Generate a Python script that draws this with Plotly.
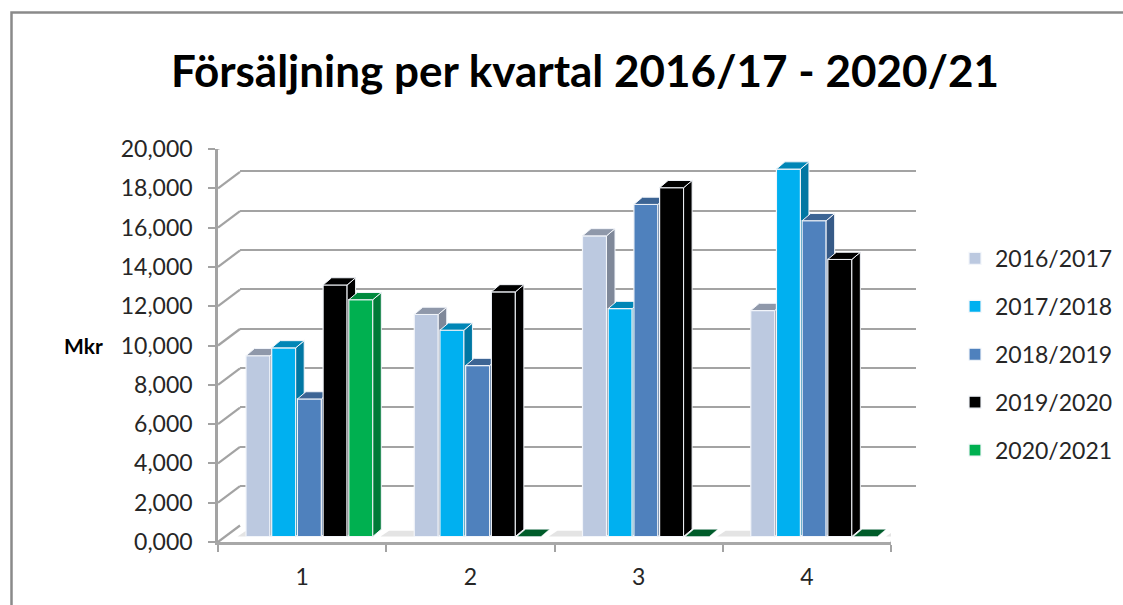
import plotly.graph_objects as go

W, H = 1123, 605
quarters = ["1", "2", "3", "4"]
seasons = ["2016/2017", "2017/2018", "2018/2019", "2019/2020", "2020/2021"]
s1617 = [9200, 11300, 15300, 11500]
s1718 = [9600, 10500, 11600, 18700]
s1819 = [7000, 8700, 16900, 16070]
s1920 = [12800, 12450, 17750, 14100]
s2021 = [12050, 0, 0, 0]
series = [s1617, s1718, s1819, s1920, s2021]
front = ["#BCC9E0", "#00B0F0", "#4F81BD", "#000000", "#00B050"]
side = ["#7F8899", "#0077A3", "#365A87", "#000000", "#007A37"]
top = ["#8F98AA", "#0086B6", "#3C6494", "#000000", "#008A3E"]
zero_top = "#005C2A"
y_ticks = list(range(0, 20001, 2000))
y_labels = [f"{v // 1000},000" for v in y_ticks]
title = "Försäljning per kvartal 2016/17 - 2020/21"

# front plane of the box in page pixels
X0, X1, YT, YB = 218.0, 891.0, 149.0, 542.0
BX0, BX1, BYT, BYB = 240.0, 916.0, 132.0, 525.5
ux = (X1 - X0) / 4          # px per category
uy = (YB - YT) / 20000      # px per value unit


def px_x(p):
    return p / ux


def px_y(p):
    return p / uy


base_dx, base_dy = px_x(7.5), px_y(5.5)     # offset of bar fronts from box front
dep_dx, dep_dy = px_x(8.5), px_y(7.2)       # bar depth
wall_dx, wall_dy = px_x(BX0 - X0), px_y(YB - BYB)
bar_w = px_x(24.0)
step = px_x(25.7)

GRID = "#A3A3A3"
FONT = "Lato"
TXT = "#262626"

fig = go.Figure()

# back wall
fig.add_trace(go.Scatter(x=[0], y=[0], xaxis="x", yaxis="y", mode="markers",
                         marker=dict(opacity=0), showlegend=False, hoverinfo="skip"))

# side wall diagonals and floor outline
for v in y_ticks:
    fig.add_trace(go.Scatter(x=[0, wall_dx], y=[v, v + wall_dy], xaxis="x2", yaxis="y2", mode="lines",
                             line=dict(color=GRID, width=2.2), showlegend=False,
                             hoverinfo="skip", cliponaxis=False))
fig.add_trace(go.Scatter(x=[4, 4 + wall_dx], y=[0, wall_dy], xaxis="x2", yaxis="y2", mode="lines",
                         line=dict(color="#B5B5B5", width=2.2), showlegend=False,
                         hoverinfo="skip", cliponaxis=False))

# floor shading between the groups
for c in range(5):
    xa = c + base_dx + px_x(20.5) - 0.2 if c else base_dx + px_x(12)
    xb = c + base_dx + px_x(20.5) if c < 4 else 4 + px_x(5)
    if c == 4:
        xa = 4 - px_x(5)
    ya, yb = base_dy, base_dy + dep_dy * 0.8
    fig.add_trace(go.Scatter(x=[xa, xb, xb + dep_dx, xa + dep_dx, xa], y=[ya, ya, yb, yb, ya],
                             xaxis="x2", yaxis="y2", mode="lines", fill="toself",
                             fillcolor="#E4E4E4", line=dict(width=0), showlegend=False,
                             hoverinfo="skip", cliponaxis=False))

for i, vals in enumerate(series):
    ax = str(i + 3)
    xax, yax = "x" + ax, "y" + ax
    lefts = [q + base_dx + px_x(20.5) + i * step for q in range(4)]
    fig.add_trace(go.Bar(x=[l + bar_w / 2 for l in lefts], y=vals, base=[base_dy] * 4, width=bar_w,
                         name=seasons[i], legendgroup=seasons[i], xaxis=xax, yaxis=yax,
                         marker=dict(color=front[i], line=dict(color="#F2F5FA", width=1.2)),
                         customdata=quarters, hovertemplate="Kvartal %{customdata}: %{y}<extra>" + seasons[i] + "</extra>",
                         cliponaxis=False))
    for l, v in zip(lefts, vals):
        r = l + bar_w
        t = base_dy + v
        if v > 0:
            fig.add_trace(go.Scatter(x=[r, r + dep_dx, r + dep_dx, r, r],
                                     y=[base_dy, base_dy + dep_dy, t + dep_dy, t, base_dy],
                                     xaxis=xax, yaxis=yax, mode="lines", fill="toself", fillcolor=side[i],
                                     line=dict(color="#F2F5FA", width=1), legendgroup=seasons[i],
                                     showlegend=False, hoverinfo="skip", cliponaxis=False))
        fig.add_trace(go.Scatter(x=[l, r, r + dep_dx, l + dep_dx, l],
                                 y=[t, t, t + dep_dy, t + dep_dy, t],
                                 xaxis=xax, yaxis=yax, mode="lines", fill="toself",
                                 fillcolor=top[i] if v > 0 else zero_top,
                                 line=dict(color="#F2F5FA", width=1 if v > 0 else 0.5), legendgroup=seasons[i],
                                 showlegend=False, hoverinfo="skip", cliponaxis=False))

dx_front = [X0 / W, X1 / W]
dy_front = [1 - YB / H, 1 - YT / H]

layout = dict(
    width=W, height=H, autosize=False,
    margin=dict(l=0, r=0, t=0, b=0, pad=0, autoexpand=False),
    paper_bgcolor="white", plot_bgcolor="rgba(0,0,0,0)",
    font=dict(family=FONT, color=TXT),
    title=dict(text=title, x=585 / W, xanchor="center", y=1 - 72 / H, yanchor="middle",
               font=dict(family=FONT, size=44, color="#000000", weight="bold")),
    barmode="overlay",
    showlegend=True,
    legend=dict(x=955 / W, xanchor="left", y=1 - 237 / H, yanchor="top", tracegroupgap=15,
                font=dict(family=FONT, size=23, color=TXT), bgcolor="rgba(0,0,0,0)"),
    annotations=[dict(text="<b>Mkr</b>", x=83 / W, y=1 - 345 / H, xref="paper", yref="paper",
                      xanchor="center", yanchor="middle",
                      showarrow=False, font=dict(family=FONT, size=21, color="#000000"))],
    shapes=[dict(type="path", xref="paper", yref="paper",
                 path=f"M {11.5 / W} 0 L {11.5 / W} {1 - 12.5 / H} L 1 {1 - 12.5 / H}",
                 line=dict(color="#8A8A8A", width=2.5))],
    xaxis=dict(domain=[BX0 / W, BX1 / W], range=[0, 4], visible=False, anchor="y"),
    yaxis=dict(domain=[1 - BYB / H, 1 - BYT / H], range=[0, 20000], anchor="x", showline=False,
               showticklabels=False, ticks="", tickvals=y_ticks, showgrid=True,
               gridcolor=GRID, gridwidth=2.4, zeroline=False),
    xaxis2=dict(domain=dx_front, range=[0, 4], anchor="y2", showgrid=False, zeroline=False,
                showline=True, linecolor="#A8A8A8", linewidth=2.5, ticks="outside", ticklen=7,
                tickwidth=2, tickcolor=GRID, tickvals=[0, 1, 2, 3, 4], showticklabels=False),
    yaxis2=dict(domain=dy_front, range=[0, 20000], anchor="x2", showgrid=False, zeroline=False,
                showline=True, linecolor=GRID, linewidth=2.5, ticks="outside", ticklen=7,
                tickwidth=2, tickcolor=GRID, tickvals=y_ticks, ticktext=y_labels,
                ticklabelstandoff=11, tickfont=dict(family=FONT, size=23, color=TXT)),
)
for i in range(5):
    n = i + 3
    layout[f"xaxis{n}"] = dict(overlaying="x2", range=[0, 4], anchor=f"y{n}", showgrid=False, zeroline=False,
                               showline=False, visible=i == 0, ticks="",
                               tickvals=[q + 0.5 for q in range(4)], ticktext=quarters,
                               ticklabelstandoff=19, tickfont=dict(family=FONT, size=23, color=TXT))
    layout[f"yaxis{n}"] = dict(overlaying="y2", range=[0, 20000], anchor=f"x{n}", visible=False,
                               showgrid=False, zeroline=False)
fig.update_layout(**layout)
fig.write_html("out.html", post_script="document.body.style.margin='0';",
               config={"displayModeBar": False})
